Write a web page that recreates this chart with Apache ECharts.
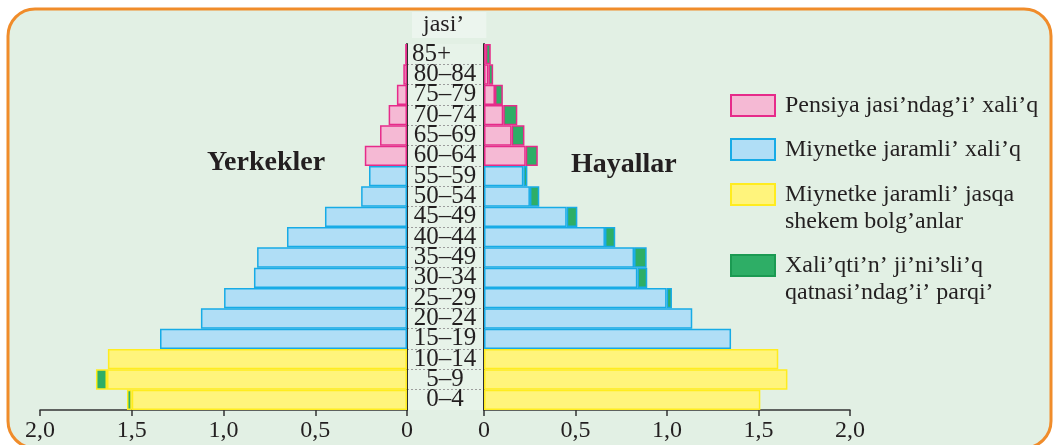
<!DOCTYPE html>
<html><head><meta charset="utf-8">
<script src="https://cdn.jsdelivr.net/npm/echarts@6/dist/echarts.min.js"></script>
<style>html,body{margin:0;padding:0;background:#fff}#c{width:1054px;height:445px}</style>
</head><body><div id="c"></div>
<script>
// ---- data (bottom row first) ----
const ages = ['0–4','5–9','10–14','15–19','20–24','25–29','30–34','35–49','40–44','45–49','50–54','55–59','60–64','65–69','70–74','75–79','80–84','85+'];
const ageGroup = ['young','young','young','working','working','working','working','working','working','working','working','working','pension','pension','pension','pension','pension','pension'];
const menBase = [1.50, 1.635, 1.63, 1.346, 1.123, 0.997, 0.834, 0.817, 0.654, 0.447, 0.25, 0.207, 0.23, 0.147, 0.10, 0.055, 0.02, 0.01];
const menExcess = [0.026, 0.06, 0, 0, 0, 0, 0, 0, 0, 0, 0, 0, 0, 0, 0, 0, 0, 0];
const womenBase = [1.51, 1.658, 1.608, 1.35, 1.138, 0.998, 0.838, 0.82, 0.661, 0.452, 0.251, 0.215, 0.228, 0.151, 0.105, 0.06, 0.024, 0.01];
const womenExcess = [0, 0, 0, 0, 0, 0.029, 0.054, 0.069, 0.056, 0.058, 0.051, 0.022, 0.066, 0.07, 0.077, 0.043, 0.026, 0.027];
const groups = ['pension', 'working', 'young'];
const legendNames = ['Pensiya jasi’ndag’i’ xali’q', 'Miynetke jaramli’ xali’q', 'Miynetke jaramli’ jasqa\nshekem bolg’anlar', 'Xali’qti’n’ ji’ni’sli’q\nqatnasi’ndag’i’ parqi’'];
const sideTitles = ['Yerkekler', 'Hayallar'];
const ageTitle = 'jasi’';

// ---- styles ----
const groupStyle = {
  pension: {fill: '#f5b9d4', border: '#e62b8a'},
  working: {fill: '#b0def6', border: '#17abe6'},
  young:   {fill: '#fff47c', border: '#ffec1f'}
};
const greenStyle = {fill: '#2eae66', border: '#1b9a52'};
const serif = 'Liberation Serif';
const ink = '#231f20';

function sideSeries(base, excess, idx, stack) {
  const list = groups.map((g, k) => ({
    name: legendNames[k], type: 'bar', xAxisIndex: idx, yAxisIndex: idx, stack: stack,
    barCategoryGap: '0%',
    data: base.map((v, i) => ageGroup[i] === g ? v : '-'),
    itemStyle: {color: groupStyle[g].fill, borderColor: groupStyle[g].border, borderWidth: 1.5},
    emphasis: {disabled: true}
  }));
  list.push({
    name: legendNames[3], type: 'bar', xAxisIndex: idx, yAxisIndex: idx, stack: stack,
    barCategoryGap: '0%',
    data: excess.map((v, i) => v > 0 ? {value: v, itemStyle: {borderColor: groupStyle[ageGroup[i]].border}} : '-'),
    itemStyle: {color: greenStyle.fill, borderColor: greenStyle.border, borderWidth: 1.5},
    emphasis: {disabled: true}
  });
  return list;
}

function xAxisDef(idx, inverse) {
  return {
    gridIndex: idx, type: 'value', min: 0, max: 2, interval: 0.5, inverse: inverse,
    axisLine: {show: true, lineStyle: {color: '#333', width: 1.5}},
    axisTick: {show: true, length: 6, lineStyle: {color: '#333', width: 1.5}},
    axisLabel: {margin: 9, fontFamily: serif, fontSize: 24, color: ink,
      formatter: v => v === 0 ? '0' : v.toFixed(1).replace('.', ',')},
    splitLine: {show: false}
  };
}
function yAxisDef(idx, pos) {
  return {
    gridIndex: idx, type: 'category', data: ages, position: pos,
    axisLine: {show: true, lineStyle: {color: '#2e2e2e', width: 2}},
    axisTick: {show: false}, axisLabel: {show: false}, splitLine: {show: false}
  };
}

const legendTop = [92, 136, 154, 225];
const legends = legendNames.map((n, k) => ({
  data: [n], left: 730, top: legendTop[k], orient: 'vertical', padding: 0,
  itemWidth: 44, itemHeight: 21, icon: 'rect', selectedMode: false,
  formatter: name => name.indexOf('\n') >= 0 ? '\n' + name : name,
  textStyle: {fontFamily: serif, fontSize: 24, color: ink, lineHeight: 27, padding: [0, 0, 0, 5]}
}));

const option = {
  animation: false,
  backgroundColor: '#ffffff',
  graphic: [{
    type: 'rect', z: -10, silent: true,
    shape: {x: 8, y: 9, width: 1043, height: 439, r: 27},
    style: {fill: '#e2f0e4', stroke: '#f08c2a', lineWidth: 3}
  }],
  title: [
    {text: sideTitles[0], left: 207, top: 149, padding: 0,
      textStyle: {fontFamily: serif, fontWeight: 'bold', fontSize: 28, color: ink}},
    {text: sideTitles[1], left: 571, top: 151, padding: 0,
      textStyle: {fontFamily: serif, fontWeight: 'bold', fontSize: 28, color: ink}},
    {text: ageTitle, left: 412, top: 12, padding: [1, 22, 1, 11], backgroundColor: '#ecf5ee',
      textStyle: {fontFamily: serif, fontWeight: 'normal', fontSize: 24, color: ink}}
  ],
  legend: legends,
  grid: [
    {left: 40, right: 647, top: 44, bottom: 35},
    {left: 484, right: 204, top: 44, bottom: 35},
    {left: 407, right: 570, top: 44, bottom: 35, show: true, backgroundColor: 'rgba(255,255,255,0.2)', borderWidth: 0}
  ],
  xAxis: [xAxisDef(0, true), xAxisDef(1, false), {gridIndex: 2, type: 'value', show: false}],
  yAxis: [
    yAxisDef(0, 'right'),
    yAxisDef(1, 'left'),
    {
      gridIndex: 2, type: 'category', data: ages, position: 'left',
      axisLine: {show: false}, axisTick: {show: false},
      axisLabel: {show: true, interval: 0, inside: true, margin: 38, align: 'center', fontFamily: serif, fontSize: 25, color: ink,
        formatter: v => v === '85+' ? '{l|' + v + '}' : v,
        rich: {l: {width: 66, align: 'left', fontFamily: serif, fontSize: 25, color: ink}}},
      splitLine: {show: true, interval: 0, showMinLine: false, showMaxLine: false, lineStyle: {color: '#9c9c9c', width: 1, type: [2, 2]}}
    }
  ],
  series: [].concat(sideSeries(menBase, menExcess, 0, 'men'), sideSeries(womenBase, womenExcess, 1, 'women'))
};
const chart = echarts.init(document.getElementById('c'));
chart.setOption(option);
</script>
</body></html>
